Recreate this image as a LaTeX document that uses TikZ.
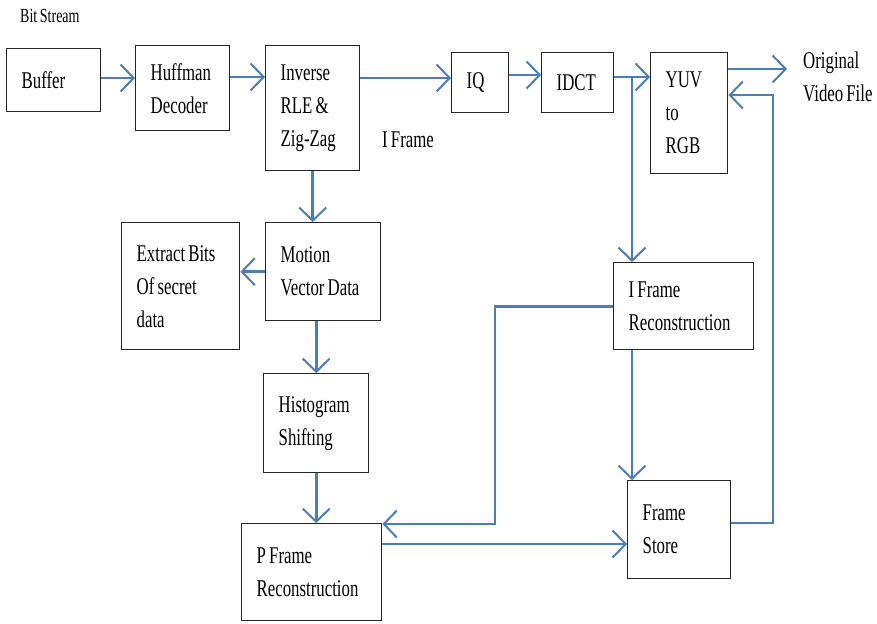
\documentclass[tikz,border=0pt]{standalone}
\usepackage{fontspec}
\setmainfont{Liberation Serif}[FakeStretch=0.7, WordSpace=0.75]
\usetikzlibrary{arrows.meta}
\definecolor{flow}{RGB}{74,126,187}
\begin{document}
\begin{tikzpicture}[x=1pt,y=-1pt,
  txt/.style={font=\fontsize{24}{33}\selectfont},
  blk/.style={txt, draw=black!85, line width=1.4pt, inner xsep=15pt, inner ysep=0pt,
              align=left, anchor=north west,
              execute at begin node={\spaceskip=0pt\xspaceskip=0pt\relax}},
  lnk/.style={draw=flow, line width=2.8pt},
  arr/.style={lnk, -{Straight Barb[length=13pt,width=27pt,line width=2pt]}},
  lbl/.style={txt, inner sep=0pt, anchor=west, align=left}]

  % canvas
  \path[fill=white] (0,0) rectangle (877,623);
  \useasboundingbox (0,0) rectangle (877,623);

  % processing blocks
  \node[blk, text width=64pt,  minimum height=63pt]  (buf)  at (6,48)    {Buffer};
  \node[blk, text width=64pt,  minimum height=85pt]  (huf)  at (135,45)  {Huffman\\Decoder};
  \node[blk, text width=64pt,  minimum height=125pt] (inv)  at (265,45)  {Inverse\\RLE \&\\Zig-Zag};
  \node[blk, text width=27pt,  minimum height=60pt]  (iq)   at (451,52)  {IQ};
  \node[blk, text width=42pt,  minimum height=60pt]  (idct) at (541,52)  {IDCT};
  \node[blk, text width=47pt,  minimum height=121pt] (yuv)  at (650,52)  {YUV\\to\\RGB};
  \node[blk, text width=85pt,  minimum height=98pt]  (mv)   at (265,222) {Motion\\Vector Data};
  \node[blk, text width=88pt,  minimum height=127pt] (ext)  at (121,222) {Extract Bits\\Of secret\\data};
  \node[blk, text width=75pt,  minimum height=99pt]  (hist) at (263,373) {Histogram\\Shifting};
  \node[blk, text width=110pt, minimum height=97pt]  (pf)   at (241,523) {P Frame\\Reconstruction};
  \node[blk, text width=110pt, minimum height=87pt]  (ifr)  at (613,262) {I Frame\\Reconstruction};
  \node[blk, text width=73pt,  minimum height=98pt]  (fs)   at (627,480) {Frame\\Store};

  % free labels
  \node[lbl, font=\fontsize{20}{24}\selectfont] (bits) at (20,16) {Bit Stream};
  \node[lbl] (iframe) at (382,140) {I Frame};
  \node[lbl, anchor=north west] (orig) at (803,52) {Original\\Video File};

  % helper points
  \coordinate (out)  at (787,69);
  \coordinate (br)   at (632,77);
  \coordinate (ret)  at (773,95);
  \coordinate (loop) at (495,524);

  % top row
  \draw[arr] ([yshift=-30pt]buf.north east) -- ([yshift=-30pt]buf.north east -| huf.west);
  \draw[arr] ([yshift=-32pt]huf.north east) -- ([yshift=-32pt]huf.north east -| inv.west);
  \draw[arr] ([yshift=-33pt]inv.north east) -- ([yshift=-33pt]inv.north east -| iq.west);
  \draw[arr] ([yshift=-23pt]iq.north east)  -- ([yshift=-23pt]iq.north east -| idct.west);
  \draw[arr] ([yshift=-25pt]idct.north east) -- ([yshift=-25pt]idct.north east -| yuv.west);
  \draw[arr] (yuv.east |- out) -- (out);

  % I frame branch
  \draw[arr] (br) -- (br |- ifr.north);
  \draw[arr] (br |- ifr.south) -- (br |- fs.north);

  % P frame path
  \draw[arr] (inv.south) -- (inv.south |- mv.north);
  \draw[arr] (mv.west) -- (mv.west -| ext.east);
  \draw[arr] (hist.north |- mv.south) -- (hist.north);
  \draw[arr] (hist.south) -- (hist.south |- pf.north);
  \draw[arr] (ifr.west) -| (loop) -- (loop -| pf.east);
  \draw[arr] ([yshift=-21pt]pf.north east) -- ([yshift=-21pt]pf.north east -| fs.west);

  % feedback from frame store
  \draw[arr] ([yshift=-43pt]fs.north east) -| (ret) -- (ret -| yuv.east);
\end{tikzpicture}
\end{document}
